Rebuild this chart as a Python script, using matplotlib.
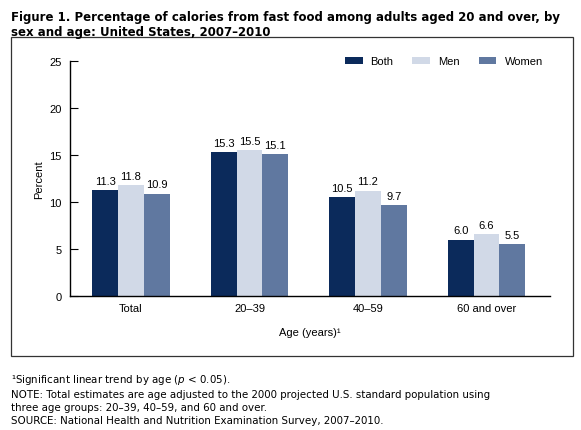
import numpy as np
import matplotlib
matplotlib.use("Agg")
import matplotlib.pyplot as plt
from matplotlib.patches import Rectangle

# data
groups = ["Total", "20\u201339", "40\u201359", "60 and over"]
both = [11.3, 15.3, 10.5, 6.0]
men = [11.8, 15.5, 11.2, 6.6]
women = [10.9, 15.1, 9.7, 5.5]
series_names = ["Both", "Men", "Women"]
colors = ["#0b2a5b", "#d1d9e7", "#6078a0"]

fig = plt.figure(figsize=(5.81, 4.31), dpi=100)

# outer box around the chart
fig.patches.append(Rectangle((0.019, 0.172), 0.967, 0.740, transform=fig.transFigure,
                             fill=False, edgecolor="#333333", linewidth=0.9))

ax = fig.add_axes([0.1205, 0.311, 0.826, 0.545])

x = np.arange(len(groups))
w = 0.217
for i, (vals, name, c) in enumerate(zip([both, men, women], series_names, colors)):
    bars = ax.bar(x + (i - 1) * w, vals, width=w, color=c, label=name, zorder=2)
    for b, v in zip(bars, vals):
        ax.text(b.get_x() + b.get_width() / 2, v + 0.45, f"{v:.1f}",
                ha="center", va="bottom", fontsize=8, family="Liberation Sans")

ax.set_xlim(-0.515, 3.536)
ax.set_ylim(0, 25)
ax.set_yticks([0, 5, 10, 15, 20, 25])
ax.set_xticks(x)
ax.set_xticklabels(groups)
for s in ["top", "right"]:
    ax.spines[s].set_visible(False)
ax.spines["left"].set_linewidth(1.0)
ax.spines["bottom"].set_linewidth(1.0)
ax.tick_params(axis="y", direction="in", length=6, width=0.8, labelsize=8, pad=6)
ax.tick_params(axis="x", length=0, labelsize=8, pad=5)
for lab in ax.get_xticklabels() + ax.get_yticklabels():
    lab.set_family("Liberation Sans")

ax.set_ylabel("Percent", fontsize=8, family="Liberation Sans", labelpad=4)
ax.set_xlabel("Age (years)\u00b9", fontsize=8, family="Liberation Sans", labelpad=10)

ax.legend(loc="center right", bbox_to_anchor=(0.985, 1.0), ncol=3, frameon=False,
          borderaxespad=0, borderpad=0,
          handlelength=1.6, handleheight=0.63, columnspacing=1.7, handletextpad=0.72,
          prop={"family": "Liberation Sans", "size": 8})

fig.text(0.019, 0.975, "Figure 1. Percentage of calories from fast food among adults aged 20 and over, by\n"
         "sex and age: United States, 2007\u20132010",
         fontsize=8.5, fontweight="bold", family="DejaVu Sans", va="top", ha="left",
         linespacing=1.25)

fig.text(0.019, 0.012,
         "\u00b9Significant linear trend by age ($\\it{p}$ < 0.05).\n"
         "NOTE: Total estimates are age adjusted to the 2000 projected U.S. standard population using\n"
         "three age groups: 20\u201339, 40\u201359, and 60 and over.\n"
         "SOURCE: National Health and Nutrition Examination Survey, 2007\u20132010.",
         fontsize=7.35, family="DejaVu Sans", va="bottom", ha="left", linespacing=1.35)

fig.savefig("out.png", dpi=100)
